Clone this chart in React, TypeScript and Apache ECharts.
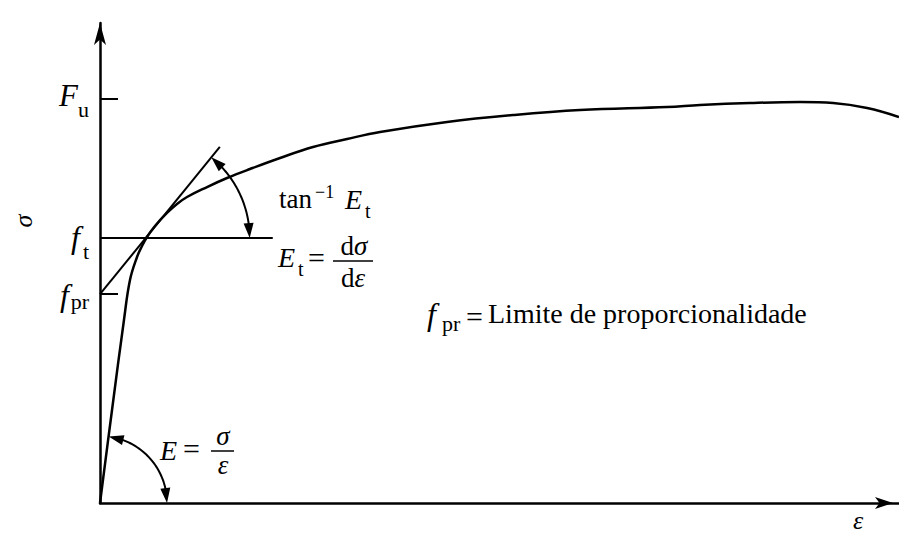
import React, { useEffect, useRef } from "react";
import * as echarts from "echarts";

// Stress–strain curve (ε, σ) in normalised units
const strain = [0, 1.52, 3.03, 3.79, 4.68, 5.31, 5.94, 6.95, 8.47, 9.73, 11.0, 13.53, 16.06, 18.96, 22.76, 26.93, 31.23, 35.4, 43.87, 52.21, 60.68, 71.68, 75.85, 82.17, 88.5, 92.67, 96.97, 101.0];
const stress = [0, 19.38, 38.13, 46.46, 51.25, 53.54, 55.42, 57.71, 60.42, 62.29, 63.75, 65.83, 67.71, 69.58, 71.88, 74.17, 75.83, 77.29, 79.38, 80.83, 81.88, 82.5, 82.92, 83.33, 83.54, 83.33, 82.29, 80.42];

// Characteristic stress levels on the σ axis
const levelKeys = ["Fu", "ft", "fpr"];
const levelValues = [84.3, 55.2, 43.5];

// Tangent drawn from f_pr, and the horizontal line at f_t
const tangentEnd = [15.15, 74.2];
const ftLineEndStrain = 21.84;

const FONT = '"Liberation Serif", "Times New Roman", serif';

const X_MIN = 0, X_MAX = 101, Y_MIN = 0, Y_MAX = 100;

function txt(text: string, x: number, baseline: number, size: number, italic: boolean, align: string = "left", extra: any = {}) {
  return {
    type: "text",
    x,
    y: baseline - 0.34 * size,
    silent: true,
    ...extra,
    style: {
      text,
      fill: "#000",
      fontFamily: FONT,
      fontSize: size,
      fontStyle: italic ? "italic" : "normal",
      align,
      verticalAlign: "middle",
    },
  };
}

function bar(x1: number, x2: number, y: number) {
  return { type: "line", silent: true, shape: { x1, y1: y, x2, y2: y }, style: { stroke: "#000", lineWidth: 1.5 } };
}

// Arc with a filled arrowhead at each end, centred on a data point
function arcWithArrows(c: number[], a0: number, a1: number, R: number) {
  const L = 15, W = 10;
  const P = (a: number) => [c[0] + R * Math.cos(a), c[1] - R * Math.sin(a)];
  const da = L / R;
  const pts: number[][] = [];
  const n = 40;
  const s = a0 + da * 0.6, e = a1 - da * 0.6;
  for (let i = 0; i <= n; i++) pts.push(P(s + ((e - s) * i) / n));
  const head = (tipA: number, baseA: number) => {
    const tip = P(tipA);
    const base = P(baseA);
    const dx = tip[0] - base[0], dy = tip[1] - base[1];
    const len = Math.hypot(dx, dy);
    const px = (-dy / len) * (W / 2), py = (dx / len) * (W / 2);
    return {
      type: "polygon",
      shape: { points: [tip, [base[0] + px, base[1] + py], [base[0] - px, base[1] - py]] },
      style: { fill: "#000" },
    };
  };
  return {
    type: "group",
    children: [
      { type: "polyline", shape: { points: pts }, style: { stroke: "#000", lineWidth: 2, fill: "none" } },
      head(a1, a1 - da),
      head(a0, a0 + da),
    ],
  };
}

export default function App() {
  const ref = useRef<HTMLDivElement>(null);

  useEffect(() => {
    if (!ref.current) return;
    const chart = echarts.init(ref.current, null, { renderer: "svg" });

    const fpr = levelValues[2];
    const ft = levelValues[1];
    const slope = (tangentEnd[1] - fpr) / tangentEnd[0];
    const crossStrain = (ft - fpr) / slope;

    chart.setOption({
      animation: false,
      grid: { left: 100, top: 23, right: 0, bottom: 32, containLabel: false },
      xAxis: {
        type: "value",
        min: X_MIN,
        max: X_MAX,
        axisLine: { show: true, onZero: false, symbol: ["none", "arrow"], symbolSize: [9, 18], symbolOffset: [0, -6], lineStyle: { color: "#000", width: 2.5 } },
        axisTick: { show: false },
        axisLabel: { show: false },
        splitLine: { show: false },
      },
      yAxis: {
        type: "value",
        min: Y_MIN,
        max: Y_MAX,
        axisLine: { show: true, onZero: false, symbol: ["none", "arrow"], symbolSize: [9, 22], lineStyle: { color: "#000", width: 2.5 } },
        axisTick: { show: true, inside: true, length: 18, customValues: levelValues, lineStyle: { color: "#000", width: 2 } },
        axisLabel: { show: false },
        splitLine: { show: false },
      },
      series: [
        {
          name: "curve",
          type: "line",
          data: strain.map((x, i) => [x, stress[i]]),
          smooth: 0.4,
          showSymbol: false,
          clip: false,
          lineStyle: { color: "#000", width: 2.5 },
        },
        {
          name: "tangent",
          type: "line",
          data: [[0, fpr], tangentEnd],
          showSymbol: false,
          lineStyle: { color: "#000", width: 2 },
        },
        {
          name: "ft",
          type: "line",
          data: [[0, ft], [ftLineEndStrain, ft]],
          showSymbol: false,
          lineStyle: { color: "#000", width: 2 },
        },
        {
          name: "angles",
          type: "custom",
          clip: false,
          data: [
            [crossStrain, ft, tangentEnd[0], tangentEnd[1], 104],
            [0, 0, strain[2], stress[2], 67],
          ],
          renderItem: (_params: any, api: any) => {
            const c = api.coord([api.value(0), api.value(1)]);
            const d = api.coord([api.value(2), api.value(3)]);
            const a1 = Math.atan2(-(d[1] - c[1]), d[0] - c[0]);
            return arcWithArrows(c, 0, a1, api.value(4));
          },
        },
      ],
    });

    const yPx = (v: number) => chart.convertToPixel({ yAxisIndex: 0 }, v) as number;
    const yFu = yPx(levelValues[0]);
    const yFt = yPx(levelValues[1]);
    const yFpr = yPx(levelValues[2]);

    const graphic: any[] = [
      // σ-axis level labels
      txt("F", 78, yFu + 8, 31, true, "right"),
      txt("u", 89, yFu + 19, 22, false, "right"),
      txt("f", 80, yFt + 10, 32, true, "right"),
      txt("t", 89, yFt + 21, 22, false, "right"),
      txt("f", 69, yFpr + 12, 32, true, "right"),
      txt("pr", 89, yFpr + 15, 22, false, "right"),
      // axis names
      { ...txt("σ", 23, 221 + 0.34 * 26, 26, true, "center"), rotation: Math.PI / 2 },
      txt("ε", 858, 529, 26, true, "center"),
      // tan⁻¹ E_t
      txt("tan", 279, 208, 27, false),
      txt("−1", 315, 198, 18, false),
      txt("E", 345, 209, 28, true),
      txt("t", 365, 218, 20, false),
      // E_t = dσ/dε
      txt("E", 278, 267, 28, true),
      txt("t", 298, 276, 20, false),
      txt("=", 308, 268, 30, false),
      bar(333, 373, 261),
      {
        type: "text", x: 354, y: 255 - 0.34 * 27, silent: true,
        style: { text: "{r|d}{i|σ}", align: "center", verticalAlign: "middle", fill: "#000", fontFamily: FONT, fontSize: 27,
          rich: { r: { fontFamily: FONT, fontSize: 27 }, i: { fontFamily: FONT, fontSize: 27, fontStyle: "italic" } } },
      },
      {
        type: "text", x: 353, y: 287 - 0.34 * 27, silent: true,
        style: { text: "{r|d}{i|ε}", align: "center", verticalAlign: "middle", fill: "#000", fontFamily: FONT, fontSize: 27,
          rich: { r: { fontFamily: FONT, fontSize: 27 }, i: { fontFamily: FONT, fontSize: 27, fontStyle: "italic" } } },
      },
      // E = σ/ε
      txt("E", 160, 460, 28, true),
      txt("=", 183, 459, 30, false),
      bar(211, 234, 451),
      txt("σ", 223, 445, 27, true, "center"),
      txt("ε", 223, 474, 27, true, "center"),
      // f_pr = Limite de proporcionalidade
      txt("f", 427, 325, 32, true),
      txt("pr", 442, 331, 22, false),
      txt("=", 466, 327, 30, false),
      txt("Limite de proporcionalidade", 488, 323, 28, false),
    ];

    chart.setOption({ graphic });

    return () => chart.dispose();
  }, []);

  return <div ref={ref} style={{ position: "absolute", left: 0, top: 0, width: 899, height: 535, background: "#fff" }} />;
}
